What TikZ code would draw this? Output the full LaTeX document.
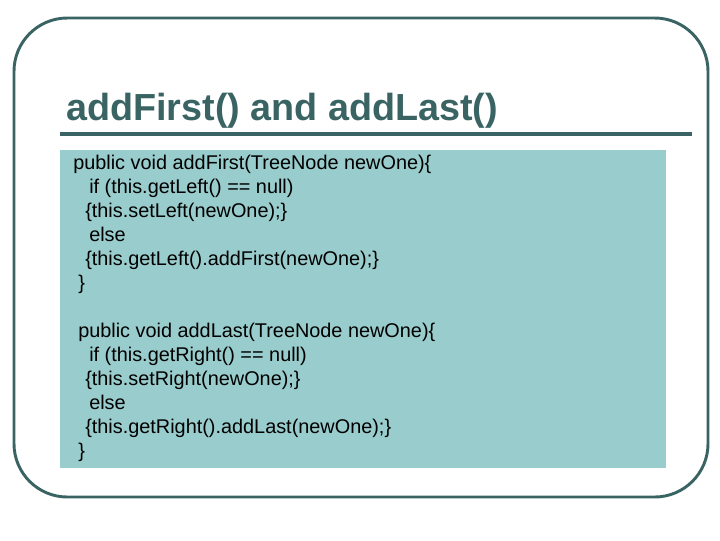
\documentclass[tikz,border=0pt]{standalone}
\usepackage{fontspec}
\setmainfont{Liberation Sans}
\definecolor{frame}{HTML}{3A6464}
\definecolor{boxfill}{HTML}{99CCCC}
\begin{document}
\begin{tikzpicture}[x=0.75pt,y=-0.75pt,
  code/.style={anchor=base west,inner sep=0pt,font=\fontsize{14.9pt}{17pt}\selectfont}]
\useasboundingbox (0,0) rectangle (720,540);
\draw[frame,line width=2.2pt,rounded corners=40pt] (14,18) rectangle (708,497);
\node[anchor=base west,inner sep=0pt,text=frame,font=\fontsize{28.3pt}{32pt}\selectfont\bfseries] (title) at (66,120) {addFirst() and addLast()};
\draw[frame,line width=2.4pt] (60,134) coordinate (l1) -- (692,134) coordinate (l2);
\fill[boxfill] (60,150) rectangle (666,468);
\node[code] (a1) at (73,169) {public void addFirst(TreeNode newOne)\{};
\node[code] (a2) at (89,193) {if (this.getLeft() == null)};
\node[code] (a3) at (85,217) {\{this.setLeft(newOne);\}};
\node[code] (a4) at (89,241) {else};
\node[code] (a5) at (85,265) {\{this.getLeft().addFirst(newOne);\}};
\node[code] (a6) at (78,289) {\}};
\node[code] (b1) at (78,337) {public void addLast(TreeNode newOne)\{};
\node[code] (b2) at (89,361) {if (this.getRight() == null)};
\node[code] (b3) at (85,385) {\{this.setRight(newOne);\}};
\node[code] (b4) at (89,409) {else};
\node[code] (b5) at (85,433) {\{this.getRight().addLast(newOne);\}};
\node[code] (b6) at (78,457) {\}};
\end{tikzpicture}
\end{document}
